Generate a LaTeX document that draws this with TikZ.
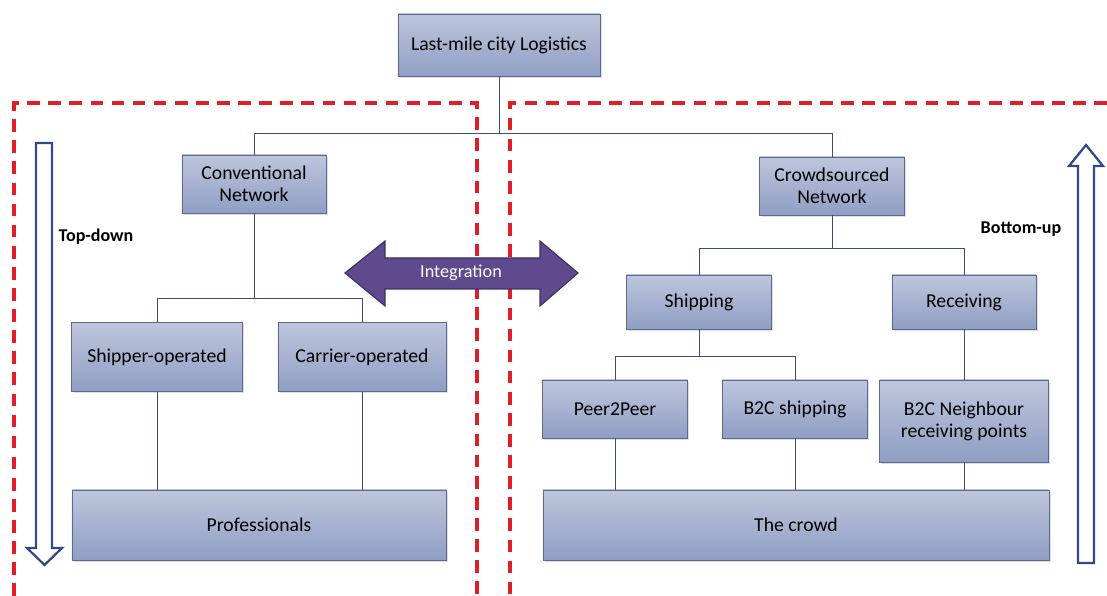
\documentclass[tikz,border=0pt]{standalone}
\usepackage{fontspec}
\setmainfont{Carlito}
\usetikzlibrary{shadows}
\definecolor{boxtop}{HTML}{BEC6DC}
\definecolor{boxbot}{HTML}{8F9EC3}
\definecolor{boxline}{HTML}{5A6A92}
\definecolor{conn}{HTML}{3B4C7A}
\definecolor{reddash}{HTML}{E01E28}
\definecolor{hollow}{HTML}{2E4A88}
\definecolor{integ}{HTML}{5E4A8C}
\definecolor{integline}{HTML}{3E2F66}
\tikzset{
  box/.style={draw=boxline, line width=0.6pt, top color=boxtop, bottom color=boxbot,
    align=center, inner sep=2pt, font=\fontsize{14}{15.6}\selectfont,
    drop shadow={opacity=0.25, shadow xshift=1.2pt, shadow yshift=-1.2pt}},
  link/.style={draw=conn, line width=0.7pt},
  region/.style={draw=reddash, line width=2.2pt, dash pattern=on 9pt off 6pt},
  hollowarrow/.style={draw=hollow, line width=1.6pt, fill=white, line join=miter},
  lbl/.style={font=\fontsize{12.8}{15}\selectfont\bfseries}
}
\begin{document}
\begin{tikzpicture}[x=0.025cm,y=-0.025cm]
\useasboundingbox (0,0) rectangle (1107,596);
% regions
\draw[region] (14,596) -- (14,103) -- (477,103) -- (477,596);
\draw[region] (1107,103) -- (510,103) -- (510,596);
% boxes
\node[box, minimum width=5.05cm, minimum height=1.55cm] (top) at (499,45) {Last-mile city Logistics};
\node[box, minimum width=3.6cm, minimum height=1.45cm] (conv) at (254,184) {Conventional\\Network};
\node[box, minimum width=3.625cm, minimum height=1.45cm] (crowdnet) at (832,186) {Crowdsourced\\Network};
\node[box, minimum width=4.275cm, minimum height=1.725cm] (shipper) at (157,357) {Shipper-operated};
\node[box, minimum width=4.2cm, minimum height=1.725cm] (carrier) at (362,357) {Carrier-operated};
\node[box, minimum width=9.35cm, minimum height=1.75cm] (prof) at (259,525) {Professionals};
\node[box, minimum width=3.625cm, minimum height=1.35cm] (shipping) at (699,302) {Shipping};
\node[box, minimum width=3.6cm, minimum height=1.35cm] (receiving) at (964,302) {Receiving};
\node[box, minimum width=3.625cm, minimum height=1.45cm] (p2p) at (615,409) {Peer2Peer};
\node[box, minimum width=3.625cm, minimum height=1.45cm] (b2c) at (795,409) {B2C shipping};
\node[box, minimum width=4.225cm, minimum height=2.05cm] (neigh) at (964,421) {B2C Neighbour\\receiving points};
\node[box, minimum width=12.65cm, minimum height=1.75cm] (crowd) at (796,525) {The crowd};
% junction coordinates
\coordinate (j1) at (0,133);
\coordinate (j2) at (0,298);
\coordinate (j3) at (0,248);
\coordinate (j4) at (0,356);
% connectors
\draw[link] (top.south) -- (top.south |- j1);
\draw[link] (conv.north) -- (conv.north |- j1) -- (crowdnet.north |- j1) -- (crowdnet.north);
\draw[link] (conv.south) -- (conv.south |- j2);
\draw[link] (shipper.north) -- (shipper.north |- j2) -- (carrier.north |- j2) -- (carrier.north);
\draw[link] (shipper.south) -- (shipper.south |- prof.north);
\draw[link] (carrier.south) -- (carrier.south |- prof.north);
\draw[link] (crowdnet.south) -- (crowdnet.south |- j3);
\draw[link] (shipping.north) -- (shipping.north |- j3) -- (receiving.north |- j3) -- (receiving.north);
\draw[link] (shipping.south) -- (shipping.south |- j4);
\draw[link] (p2p.north) -- (p2p.north |- j4) -- (b2c.north |- j4) -- (b2c.north);
\draw[link] (receiving.south) -- (neigh.north);
\draw[link] (p2p.south) -- (p2p.south |- crowd.north);
\draw[link] (b2c.south) -- (b2c.south |- crowd.north);
\draw[link] (neigh.south) -- (neigh.south |- crowd.north);
% hollow arrows
\draw[hollowarrow] (36,143) -- (52,143) -- (52,548) -- (62,548) -- (44.5,565) -- (27,548) -- (36,548) -- cycle;
\draw[hollowarrow] (1078,563) -- (1094,563) -- (1094,166) -- (1103,166) -- (1086,145) -- (1069,166) -- (1078,166) -- cycle;
\node[lbl] (td) at (96,237) {Top-down};
\node[lbl] (bu) at (1021,229) {Bottom-up};
% integration arrow
\draw[fill=integ, draw=integline, line width=0.8pt, line join=miter]
  (345,273) -- (385,241) -- (385,258) -- (540,258) -- (540,241) -- (578,273)
  -- (540,306) -- (540,289) -- (385,289) -- (385,306) -- cycle;
\node[text=white, font=\fontsize{13}{15}\selectfont] (integ) at (461,273) {Integration};
\end{tikzpicture}
\end{document}
